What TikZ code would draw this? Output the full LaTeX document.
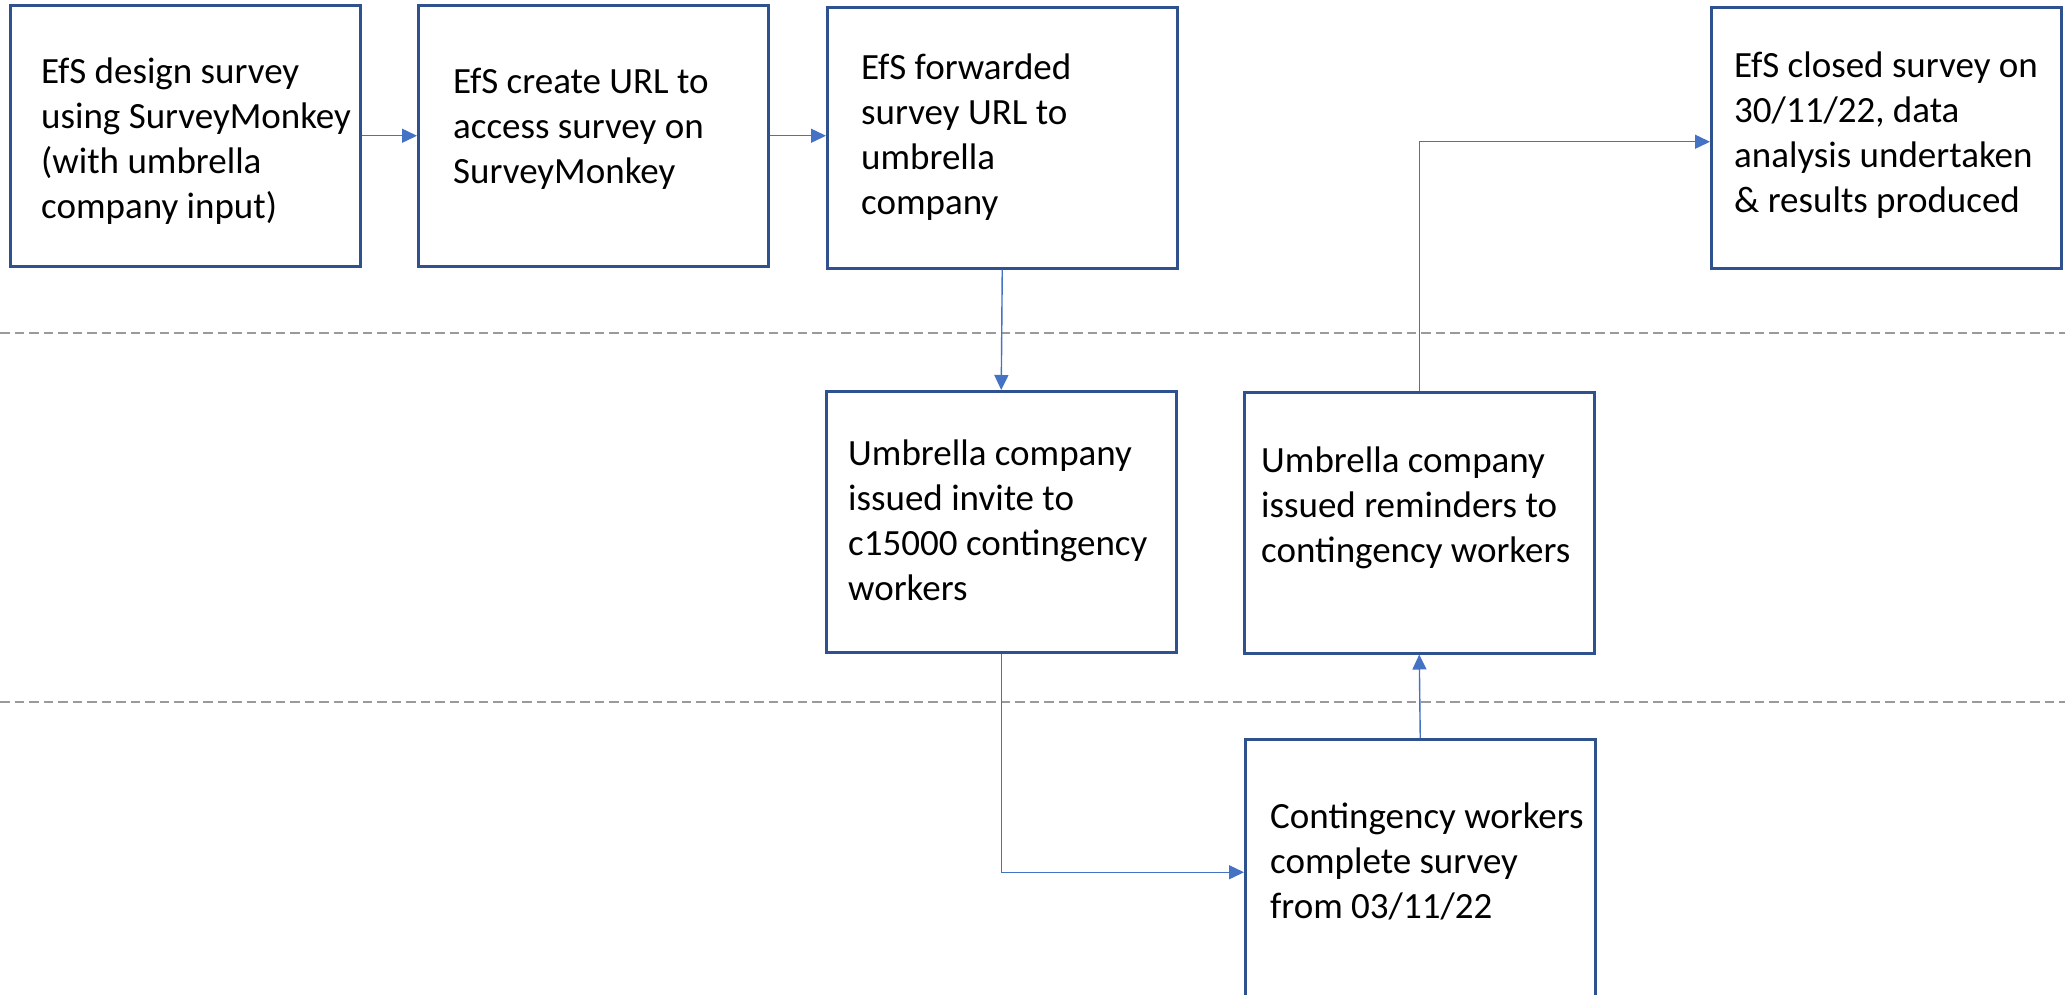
\documentclass[tikz,border=0pt]{standalone}
\usepackage{fontspec}
\setmainfont{Carlito}
\usetikzlibrary{arrows.meta}
\definecolor{boxblue}{HTML}{2F528F}
\definecolor{linkblue}{HTML}{4472C4}
\definecolor{lanegray}{HTML}{9A9A9A}
\newcommand{\stack}[1]{\begin{tabular}[t]{@{}l@{}}#1\end{tabular}}
\tikzset{
  stepbox/.style={draw=boxblue, line width=2.5pt, rectangle, inner sep=0pt,
    minimum width=350pt, minimum height=261pt, anchor=north west},
  steptext/.style={anchor=base west, inner sep=0pt,
    font=\fontsize{37}{45}\selectfont},
  link/.style={draw=linkblue, line width=1.4pt,
    -{Triangle[length=15pt,width=14pt]}},
  lane/.style={draw=lanegray, line width=1.8pt, dash pattern=on 9.5pt off 5pt}
}
\begin{document}
\begin{tikzpicture}[x=1pt,y=-1pt]
\useasboundingbox (0,0) rectangle (2065,994);
\clip (0,0) rectangle (2065,994);

% swim-lane separators
\draw[lane] (0,333) -- (2065,333);
\draw[lane] (0,702) -- (2065,702);

% boxes
\node[stepbox] (design)    at (9,4)      {};
\node[stepbox] (url)       at (417,4)    {};
\node[stepbox] (forward)   at (826,6)    {};
\node[stepbox] (closed)    at (1710,6)   {};
\node[stepbox] (invite)    at (825,390)  {};
\node[stepbox] (remind)    at (1243,391) {};
\node[stepbox, minimum height=266pt] (complete) at (1244,738) {};

% box texts
\node[steptext] (tdesign) at (41,83)
  {\stack{EfS design survey\\using SurveyMonkey\\(with umbrella\\company input)}};
\node[steptext] (turl) at (453,93)
  {\stack{EfS create URL to\\access survey on\\SurveyMonkey}};
\node[steptext] (tforward) at (861,79)
  {\stack{EfS forwarded\\survey URL to\\umbrella\\company}};
\node[steptext] (tclosed) at (1734,77)
  {\stack{EfS closed survey on\\30/11/22, data\\analysis undertaken\\\& results produced}};
\node[steptext] (tinvite) at (848,465)
  {\stack{Umbrella company\\issued invite to\\c15000 contingency\\workers}};
\node[steptext] (tremind) at (1261,472)
  {\stack{Umbrella company\\issued reminders to\\contingency workers}};
\node[steptext] (tcomplete) at (1270,828)
  {\stack{Contingency workers\\complete survey\\from 03/11/22}};

% connectors
\draw[link] (design.east) -- (url.west);
\draw[link] (url.east) -- (url.east -| forward.west);
\draw[link] (forward.south) -- (invite.north);
\draw[link] (invite.south) |- (complete.west);
\draw[link] (complete.north) -- (remind.south);
\draw[link] (remind.north) |- ([yshift=-4pt]closed.west);
\end{tikzpicture}
\end{document}
